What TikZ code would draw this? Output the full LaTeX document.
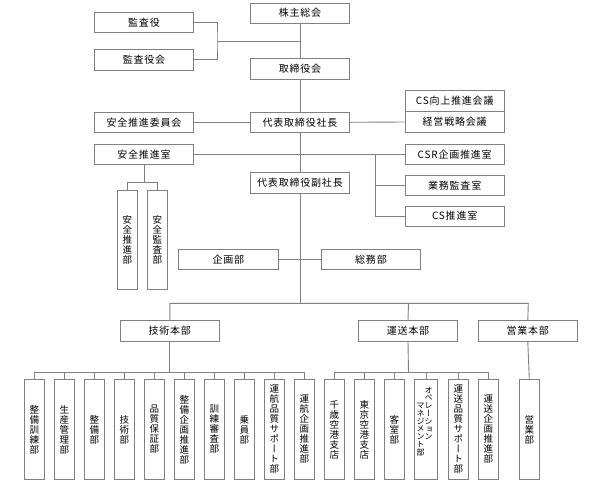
\documentclass[tikz,border=0pt]{standalone}
\usepackage{fontspec}
\setmainfont{Noto Sans CJK JP}
\newfontfamily\hjp[LetterSpace=8]{Noto Sans CJK JP}
\newfontfamily\vjp[RawFeature=+vert]{Noto Sans CJK JP}
\definecolor{linegray}{RGB}{128,128,128}
\tikzset{
  hbox/.style={draw=linegray, line width=0.9pt, fill=white, minimum width=99.5pt, minimum height=20.5pt, inner sep=0pt, font=\hjp\fontsize{10}{10}\selectfont},
  vbox/.style={draw=linegray, line width=0.9pt, fill=white, minimum width=20pt, minimum height=99.5pt, inner sep=0pt, align=center, font=\vjp\fontsize{9.5}{10}\selectfont},
  vtext/.style={inner sep=0pt, align=center, font=\vjp\fontsize{8}{7.8}\selectfont},
  conn/.style={draw=linegray, line width=0.9pt},
}
\begin{document}
\begin{tikzpicture}[x=1pt,y=-1pt]
\useasboundingbox (0,0) rectangle (600,482);
\coordinate (kbar) at (217,41.3);
\coordinate (trunkK) at (300,41.3);
\coordinate (brA) at (375.7,154.3);
\coordinate (brB) at (375.7,185.3);
\coordinate (brC) at (375.7,216);
\coordinate (anT) at (144,182.7);
\coordinate (anL) at (127.3,182.7);
\coordinate (anR) at (157.3,182.7);
\coordinate (mainL) at (169.8,303.3);
\coordinate (mainM) at (300,303.3);
\coordinate (mainU) at (408.5,303.3);
\coordinate (mainR) at (528.3,303.3);
\coordinate (gT) at (169.8,372.3);
\coordinate (uT) at (408.5,372.3);

% top section nodes
\node[hbox] (kabu) at (300,13.2) {株主総会};
\node[hbox] (kansa) at (144,22.3) {監査役};
\node[hbox] (kansakai) at (144,59.7) {監査役会};
\node[hbox] (torishimari) at (300,69) {取締役会};
\node[hbox] (shacho) at (300,122.3) {代表取締役社長};
\node[hbox] (iinkai) at (144,122.3) {安全推進委員会};
\node[hbox] (cs) at (454.7,101) {CS向上推進会議};
\node[hbox] (keiei) at (454.7,122) {経営戦略会議};
\node[hbox] (anzen) at (144,154.3) {安全推進室};
\node[hbox] (csr) at (454.7,154.3) {CSR企画推進室};
\node[hbox, minimum height=20pt] (gyomu) at (454.7,185.3) {業務監査室};
\node[hbox, minimum height=20pt] (cssuishin) at (454.7,216) {CS推進室};
\node[hbox] (fuku) at (300,182.7) {代表取締役副社長};
\node[vbox] (anzensui) at (127.3,240) {安\\全\\推\\進\\部};
\node[vbox] (anzenkan) at (157.3,240) {安\\全\\監\\査\\部};
\node[hbox] (kikaku) at (228.3,259.2) {企画部};
\node[hbox] (somu) at (371,259.2) {総務部};
\node[hbox] (gijutsu) at (169.8,331) {技術本部};
\node[hbox] (unso) at (408,331) {運送本部};
\node[hbox] (eigyo) at (527.8,331) {営業本部};

% bottom nodes
\node[vbox] (g1) at (34.3,429.5) {整\\備\\訓\\練\\部};
\node[vbox] (g2) at (64.3,429.5) {生\\産\\管\\理\\部};
\node[vbox] (g3) at (94.3,429.5) {整\\備\\部};
\node[vbox] (g4) at (124.3,429.5) {技\\術\\部};
\node[vbox] (g5) at (154.3,429.5) {品\\質\\保\\証\\部};
\node[vbox] (g6) at (184.3,429.5) {整\\備\\企\\画\\推\\進\\部};
\node[vbox] (g7) at (214.3,429.5) {訓\\練\\審\\査\\部};
\node[vbox] (g8) at (244.3,429.5) {乗\\員\\部};
\node[vbox] (g9) at (274.3,429.5) {運\\航\\品\\質\\サ\\ポ\\ー\\ト\\部};
\node[vbox] (g10) at (304.3,429.5) {運\\航\\企\\画\\推\\進\\部};
\node[vbox] (u1) at (334.3,429.5) {千\\歳\\空\\港\\支\\店};
\node[vbox] (u2) at (364.3,429.5) {東\\京\\空\\港\\支\\店};
\node[vbox] (u3) at (394.3,429.5) {客\\室\\部};
\node[vbox, minimum width=23.5pt] (u4) at (426,429.5) {};
\node[vtext] (u4a) at (428.5,413.5) {オ\\ペ\\レ\\ー\\シ\\ョ\\ン};
\node[vtext] (u4b) at (420.5,429.5) {マ\\ネ\\ジ\\メ\\ン\\ト\\部};
\node[vbox] (u5) at (458.3,429.5) {運\\送\\品\\質\\サ\\ポ\\ー\\ト\\部};
\node[vbox] (u6) at (488.3,429.5) {運\\送\\企\\画\\推\\進\\部};
\node[vbox] (e1) at (529.3,429.5) {営\\業\\部};

% connectors
\draw[conn] (kabu.south) -- (torishimari.north);
\draw[conn] (kansa.east) -| (kbar) |- (kansakai.east);
\draw[conn] (kbar) -- (trunkK);
\draw[conn] (torishimari.south) -- (shacho.north);
\draw[conn] (iinkai.east) -- (shacho.west);
\draw[conn] (shacho.east) -- (keiei.west);
\draw[conn] (shacho.south) -- (fuku.north);
\draw[conn] (anzen.east) -- (csr.west);
\draw[conn] (brA) -- (brC) -- (cssuishin.west);
\draw[conn] (brB) -- (gyomu.west);
\draw[conn] (anzen.south) -- (anT);
\draw[conn] (anzensui.north) -- (anL) -- (anR) -- (anzenkan.north);
\draw[conn] (fuku.south) -- (mainM);
\draw[conn] (kikaku.east) -- (somu.west);
\draw[conn] (gijutsu.north) -- (mainL) -- (mainR) -- (eigyo.north);
\draw[conn] (mainU) -- (unso.north);
\draw[conn] (gijutsu.south) -- (gT);
\draw[conn] (g1.north) |- (gT) -| (g10.north);
\foreach \n in {g2,g3,g4,g5,g6,g7,g8,g9}{\draw[conn] (\n.north) -- (\n.north |- gT);}
\draw[conn] (unso.south) -- (uT);
\draw[conn] (u1.north) |- (uT) -| (u6.north);
\foreach \n in {u2,u3,u4,u5}{\draw[conn] (\n.north) -- (\n.north |- uT);}
\draw[conn] (eigyo.south) -- (e1.north);
\end{tikzpicture}
\end{document}
